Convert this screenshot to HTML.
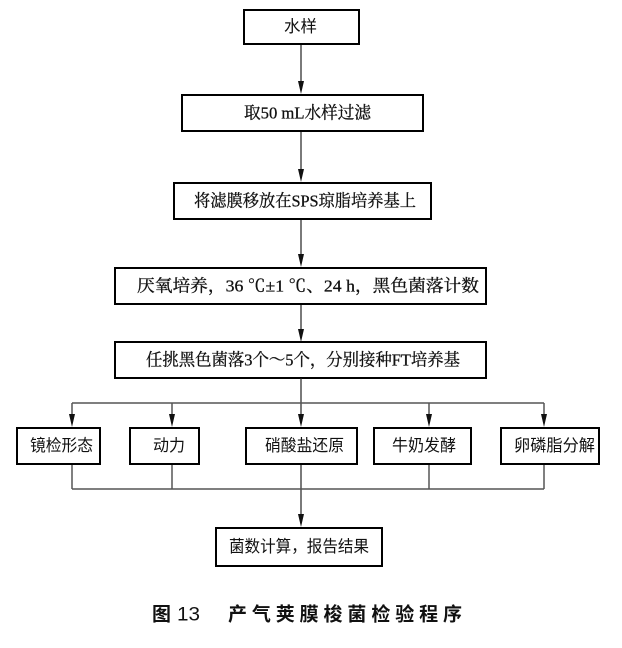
<!DOCTYPE html>
<html><head><meta charset="utf-8"><style>
html,body{margin:0;padding:0;background:#fff;}
svg{display:block;}
.b{fill:#fff;stroke:#000;stroke-width:2;}
.l{stroke:#222;stroke-width:1.2;fill:none;}
.g{stroke:#555;stroke-width:1.5;fill:none;}
.s{font-family:"Liberation Serif","Noto Serif CJK SC",serif;font-size:17px;fill:#111;stroke:#111;stroke-width:0.3;}
.h{font-family:"Liberation Sans","Noto Sans CJK SC",sans-serif;font-size:16.5px;fill:#111;}
.c{font-family:"Liberation Sans","Noto Sans CJK SC",sans-serif;font-size:19px;font-weight:bold;fill:#111;}
</style></head><body>
<svg width="622" height="648" viewBox="0 0 622 648" xmlns="http://www.w3.org/2000/svg">
<!-- boxes -->
<rect class="b" x="244" y="10" width="115" height="34"/>
<rect class="b" x="182" y="95" width="241" height="36"/>
<rect class="b" x="174" y="183" width="257" height="36"/>
<rect class="b" x="115" y="268" width="371" height="36"/>
<rect class="b" x="115" y="342" width="371" height="36"/>
<rect class="b" x="17" y="428" width="83" height="36"/>
<rect class="b" x="130" y="428" width="69" height="36"/>
<rect class="b" x="246" y="428" width="111" height="36"/>
<rect class="b" x="374" y="428" width="97" height="36"/>
<rect class="b" x="501" y="428" width="98" height="36"/>
<rect class="b" x="216" y="528" width="166" height="38"/>

<!-- main vertical connectors -->
<line class="l" x1="301" y1="45" x2="301" y2="82"/>
<polygon points="298,81 304,81 301,94" fill="#111"/>
<line class="l" x1="301" y1="132" x2="301" y2="170"/>
<polygon points="298,169 304,169 301,182" fill="#111"/>
<line class="l" x1="301" y1="220" x2="301" y2="255"/>
<polygon points="298,254 304,254 301,267" fill="#111"/>
<line class="l" x1="301" y1="305" x2="301" y2="330"/>
<polygon points="298,329 304,329 301,342" fill="#111"/>
<line class="l" x1="301" y1="378" x2="301" y2="415"/>

<!-- branch top -->
<line class="g" x1="72" y1="403" x2="544" y2="403"/>
<line class="g" x1="72" y1="403" x2="72" y2="415"/>
<line class="g" x1="172" y1="403" x2="172" y2="415"/>
<line class="g" x1="429" y1="403" x2="429" y2="415"/>
<line class="g" x1="544" y1="403" x2="544" y2="415"/>
<polygon points="69,414 75,414 72,427" fill="#111"/>
<polygon points="169,414 175,414 172,427" fill="#111"/>
<polygon points="298,414 304,414 301,427" fill="#111"/>
<polygon points="426,414 432,414 429,427" fill="#111"/>
<polygon points="541,414 547,414 544,427" fill="#111"/>

<!-- branch bottom -->
<line class="g" x1="72" y1="465" x2="72" y2="489"/>
<line class="g" x1="172" y1="465" x2="172" y2="489"/>
<line class="l" x1="301" y1="465" x2="301" y2="515"/>
<line class="g" x1="429" y1="465" x2="429" y2="489"/>
<line class="g" x1="544" y1="465" x2="544" y2="489"/>
<line class="g" x1="72" y1="489" x2="544" y2="489"/>
<polygon points="298,514 304,514 301,527" fill="#111"/>

<!-- texts -->
<text class="h" x="284" y="27" dominant-baseline="central" textLength="33" lengthAdjust="spacingAndGlyphs">水样</text>
<text class="s" x="244" y="113" dominant-baseline="central" textLength="127" lengthAdjust="spacingAndGlyphs">取50 mL水样过滤</text>
<text class="s" x="194" y="201" dominant-baseline="central" textLength="222" lengthAdjust="spacingAndGlyphs">将滤膜移放在SPS琼脂培养基上</text>
<text class="s" x="137" y="286" dominant-baseline="central" textLength="342" lengthAdjust="spacingAndGlyphs">厌氧培养，36 ℃±1 ℃、24 h，黑色菌落计数</text>
<text class="s" x="146" y="360" dominant-baseline="central" textLength="314" lengthAdjust="spacingAndGlyphs">任挑黑色菌落3个～5个，分别接种FT培养基</text>
<text class="h" x="30" y="446" dominant-baseline="central" textLength="63" lengthAdjust="spacingAndGlyphs">镜检形态</text>
<text class="h" x="153" y="446" dominant-baseline="central" textLength="32" lengthAdjust="spacingAndGlyphs">动力</text>
<text class="h" x="265" y="446" dominant-baseline="central" textLength="79" lengthAdjust="spacingAndGlyphs">硝酸盐还原</text>
<text class="h" x="392" y="446" dominant-baseline="central" textLength="64" lengthAdjust="spacingAndGlyphs">牛奶发酵</text>
<text class="h" x="514" y="446" dominant-baseline="central" textLength="81" lengthAdjust="spacingAndGlyphs">卵磷脂分解</text>
<text class="h" x="229" y="547" dominant-baseline="central" textLength="140" lengthAdjust="spacingAndGlyphs">菌数计算，报告结果</text>

<!-- caption -->
<text class="c" x="152" y="615" dominant-baseline="central" textLength="19" lengthAdjust="spacingAndGlyphs">图</text>
<text class="c" x="177" y="615" dominant-baseline="central" textLength="23" lengthAdjust="spacingAndGlyphs" style="font-weight:normal">13</text>
<text class="c" x="228" y="615" dominant-baseline="central" textLength="234" lengthAdjust="spacing">产气荚膜梭菌检验程序</text>
</svg>
</body></html>
